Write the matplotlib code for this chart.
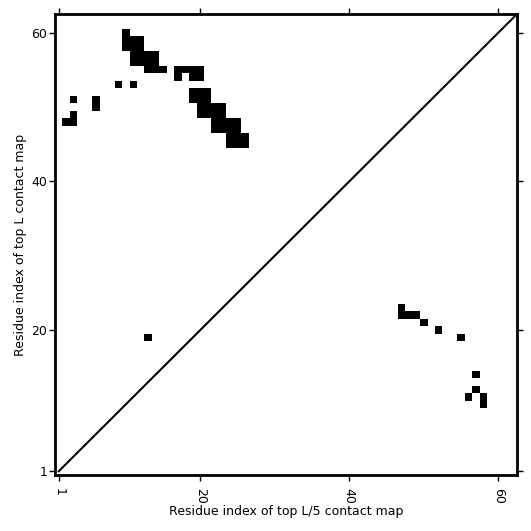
import numpy as np
import matplotlib
matplotlib.use("Agg")
import matplotlib.pyplot as plt

L = 62

# top L contacts (upper-left triangle): (x, y) residue pairs
top_L_x = [10,
           10, 11, 12,
           10, 11, 12,
           11, 12, 13, 14,
           11, 12, 13, 14,
           13, 14, 15, 17, 18, 19, 20,
           17, 19, 20,
           9, 11,
           19, 20, 21,
           3, 6, 19, 20, 21,
           6, 20, 21, 22, 23,
           3, 20, 21, 22, 23,
           2, 3, 22, 23, 24, 25,
           22, 23, 24, 25,
           24, 25, 26,
           24, 25, 26,
           13]
top_L_y = [60,
           59, 59, 59,
           58, 58, 58,
           57, 57, 57, 57,
           56, 56, 56, 56,
           55, 55, 55, 55, 55, 55, 55,
           54, 54, 54,
           53, 53,
           52, 52, 52,
           51, 51, 51, 51, 51,
           50, 50, 50, 50, 50,
           49, 49, 49, 49, 49,
           48, 48, 48, 48, 48, 48,
           47, 47, 47, 47,
           46, 46, 46,
           45, 45, 45,
           19]

# top L/5 contacts (lower-right triangle)
top_L5_x = [47, 47, 48, 49, 50, 52, 55, 57, 57, 56, 58, 58]
top_L5_y = [23, 22, 22, 22, 21, 20, 19, 14, 12, 11, 11, 10]

ticks = [1, 20, 40, 60]

cmap = np.zeros((L, L))
for x, y in zip(top_L_x, top_L_y):
    cmap[y - 1, x - 1] = 1
for x, y in zip(top_L5_x, top_L5_y):
    cmap[y - 1, x - 1] = 1

fig = plt.figure(figsize=(5.31, 5.31), dpi=100)
ax = fig.add_axes([0.1036, 0.1055, 0.87, 0.868])
ax.imshow(cmap, cmap="Greys", origin="lower", interpolation="nearest",
          extent=(0.5, L + 0.5, 0.5, L + 0.5), aspect="auto", vmin=0, vmax=1)
ax.plot([1, L + 1], [1, L + 1], color="black", linewidth=1.5)
ax.set_xlim(0.5, L + 0.5)
ax.set_ylim(0.5, L + 0.5)

ax.set_xticks(ticks)
ax.set_yticks(ticks)
ax.set_xticklabels([str(t) for t in ticks], rotation=270)
ax.tick_params(direction="out", width=1, top=True, right=True, labelsize=9)
ax.tick_params(axis="x", length=4.5, pad=5)
ax.tick_params(axis="y", length=4, pad=1.5)
for s in ax.spines.values():
    s.set_linewidth(2)

ax.set_xlabel("Residue index of top L/5 contact map", fontsize=9, labelpad=0.5)
ax.set_ylabel("Residue index of top L contact map", fontsize=9, labelpad=3)

fig.savefig("out.png", dpi=100)
